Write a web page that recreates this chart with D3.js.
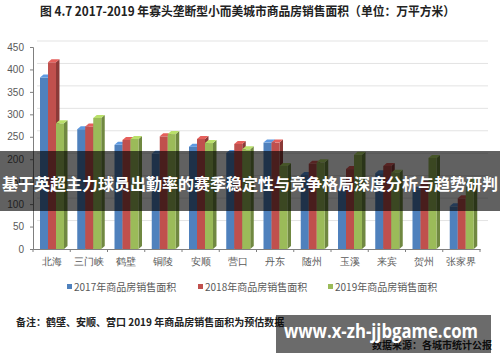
<!DOCTYPE html>
<html>
<head>
<meta charset="utf-8">
<script src="https://cdn.jsdelivr.net/npm/d3@7"></script>
<style>
  body { margin: 0; background: #fff; }
  svg { display: block; font-family: "Noto Sans CJK SC", "Noto Sans", sans-serif; }
</style>
</head>
<body>
<svg id="chart" width="500" height="362"></svg>
<script>
const cities = ['北海', '三门峡', '鹤壁', '铜陵', '安顺', '营口', '丹东', '随州', '玉溪', '来宾', '贺州', '张家界'];
const seriesNames = ['2017年商品房销售面积', '2018年商品房销售面积', '2019年商品房销售面积'];
const area2017 = [382, 267, 232, 212, 228, 214, 237, 165, 132, 169, 132, 95];
const area2018 = [416, 273, 243, 251, 245, 234, 237, 190, 178, 185, 145, 113];
const area2019 = [280, 292, 245, 256, 236, 222, 185, 193, 210, 170, 203, 150];
const yTicks = [0, 50, 100, 150, 200, 250, 300, 350, 400, 450];

const colors = ['#4f81bd', '#c0504d', '#9bbb59'];
const svg = d3.select('#chart');

// plot area
const plotLeft = 33, plotRight = 480, plotTop = 47, plotBottom = 249;
const depthX = 4, depthY = -6;

const x0 = d3.scaleBand().domain(cities).range([plotLeft, plotRight]);
const x1 = d3.scaleBand().domain([0, 1, 2]).range([0, 24]);
const y = d3.scaleLinear().domain([0, 450]).range([plotBottom, plotTop]);

// back wall grid lines
svg.append('g').selectAll('line')
  .data(yTicks.slice(1))
  .enter().append('line')
  .attr('x1', plotLeft + depthX).attr('x2', plotRight + 8)
  .attr('y1', d => y(d) + depthY).attr('y2', d => y(d) + depthY)
  .attr('stroke', '#e3e3e3').attr('stroke-width', 1);

// y axis
const yAxis = svg.append('g')
  .attr('transform', 'translate(' + plotLeft + ',0)')
  .call(d3.axisLeft(y).tickValues(yTicks).tickSize(3).tickPadding(6));
yAxis.select('.domain').attr('stroke', '#7f7f7f');
yAxis.selectAll('.tick line').attr('stroke', '#7f7f7f');
yAxis.selectAll('text').attr('fill', '#595959').style('font-size', '10px').style('font-family', 'Arial, "Liberation Sans", sans-serif');

// bars (3D look: front, right side, top cap)
const data = [area2017, area2018, area2019];
const bw = x1.bandwidth(), sx = 3.5, sy = -3;
const bars = svg.append('g');
cities.forEach((c, i) => {
  data.forEach((vals, s) => {
    const bx = x0(c) + 7 + x1(s);
    const by = y(vals[i]);
    const col = d3.color(colors[s]);
    bars.append('polygon')
      .attr('points', [[bx + bw, by], [bx + bw + sx, by + sy], [bx + bw + sx, plotBottom + sy], [bx + bw, plotBottom]].join(' '))
      .attr('fill', col.darker(0.9));
    bars.append('rect')
      .attr('x', bx).attr('y', by)
      .attr('width', bw).attr('height', plotBottom - by)
      .attr('fill', colors[s]);
    bars.append('polygon')
      .attr('points', [[bx, by], [bx + sx, by + sy], [bx + bw + sx, by + sy], [bx + bw, by]].join(' '))
      .attr('fill', col.brighter(0.5));
  });
});

// x axis
const xAxis = svg.append('g')
  .attr('transform', 'translate(0,' + plotBottom + ')')
  .call(d3.axisBottom(x0).tickSize(0).tickPadding(9));
xAxis.select('.domain').attr('stroke', '#7f7f7f');
xAxis.selectAll('text').attr('fill', '#595959').style('font-size', '10px');
svg.append('g').selectAll('line')
  .data(cities.concat(['end']))
  .enter().append('line')
  .attr('x1', (d, i) => plotLeft + i * x0.step()).attr('x2', (d, i) => plotLeft + i * x0.step())
  .attr('y1', plotBottom).attr('y2', plotBottom + 3)
  .attr('stroke', '#7f7f7f');

// legend
const legendX = [67, 198, 328];
const legend = svg.append('g');
seriesNames.forEach((name, i) => {
  legend.append('rect').attr('x', legendX[i]).attr('y', 284).attr('width', 5).attr('height', 5).attr('fill', colors[i]);
  legend.append('text').attr('x', legendX[i] + 7).attr('y', 291)
    .attr('fill', '#595959').style('font-size', '10px').text(name);
});

// title
svg.append('text')
  .attr('x', 40).attr('y', 16)
  .attr('textLength', 415).attr('lengthAdjust', 'spacingAndGlyphs')
  .style('font-size', '12.5px').style('font-weight', 'bold').attr('fill', '#222')
  .text('图 4.7  2017-2019 年寡头垄断型小而美城市商品房销售面积（单位：万平方米）');

// notes
svg.append('text')
  .attr('x', 16).attr('y', 326)
  .style('font-size', '10px').style('font-weight', 'bold').attr('fill', '#222')
  .text('备注：鹤壁、安顺、营口 2019 年商品房销售面积为预估数据');
svg.append('text')
  .attr('x', 492).attr('y', 349).attr('text-anchor', 'end')
  .style('font-size', '10px').style('font-weight', 'bold').attr('fill', '#222')
  .text('数据来源：各城市统计公报');

// overlay band
svg.append('rect').attr('x', 0).attr('y', 151).attr('width', 500).attr('height', 60)
  .attr('fill', 'rgba(0,0,0,0.62)');
svg.append('text')
  .attr('x', 2).attr('y', 190)
  .attr('textLength', 496).attr('lengthAdjust', 'spacingAndGlyphs')
  .style('font-size', '16px').style('font-weight', 'bold').attr('fill', '#fff')
  .text('基于英超主力球员出勤率的赛季稳定性与竞争格局深度分析与趋势研判');

// watermark box
svg.append('rect').attr('x', 276).attr('y', 315).attr('width', 215).attr('height', 38)
  .attr('fill', 'rgba(0,0,0,0.58)');
svg.append('text')
  .attr('x', 284).attr('y', 338)
  .attr('textLength', 194).attr('lengthAdjust', 'spacingAndGlyphs')
  .style('font-size', '19px').style('font-weight', 'bold').style('font-family', '"Open Sans", sans-serif')
  .attr('fill', '#fff')
  .text('www.x-zh-jjbgame.com');
</script>
</body>
</html>
